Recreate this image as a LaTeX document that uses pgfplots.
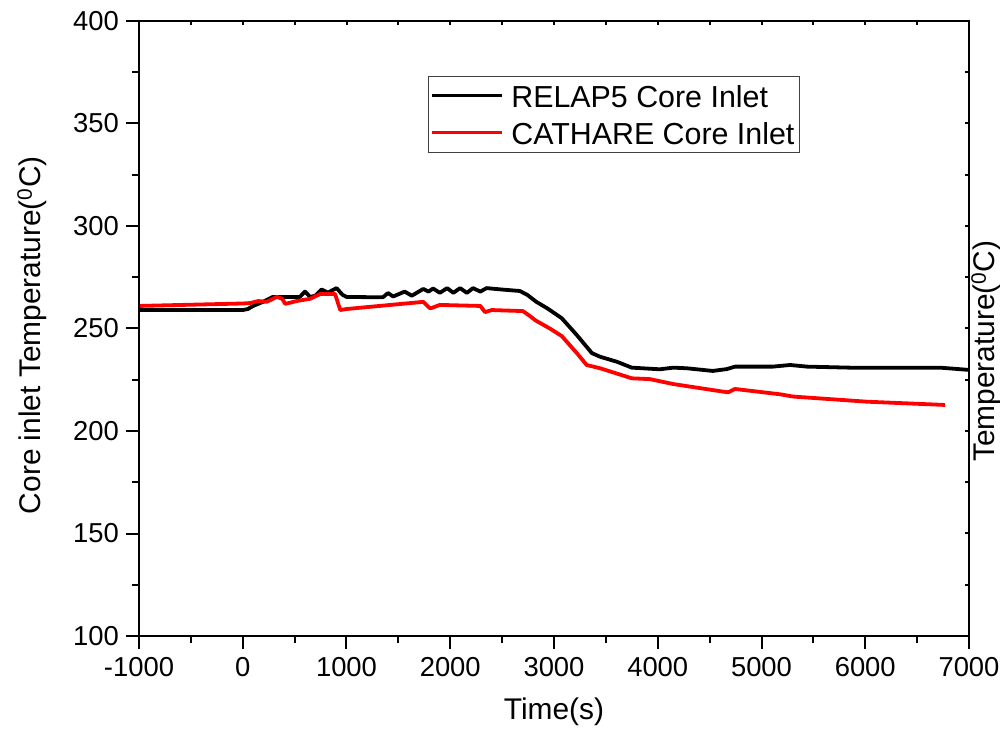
\documentclass[border=0pt]{standalone}
\usepackage{fontspec}
\setmainfont{Liberation Sans}
\usepackage{pgfplots}
\usepackage{pgfplotstable}
\pgfplotsset{compat=1.18}

% Core inlet temperature, RELAP5 calculation
\pgfplotstableread{
t T
-1000 259
0 259
50 259.5
100 261
195 263
290 265.4
550 265.4
600 268
650 265.4
700 266
760 269
820 267.5
905 269.7
960 266.5
1000 265.4
1350 265.2
1400 267.3
1450 265.6
1560 268
1630 266
1740 269.3
1790 268
1835 269.5
1900 267.4
1970 269.7
2030 267.4
2095 269.7
2160 267.4
2220 269.7
2290 268
2350 269.7
2500 269
2670 268.3
2740 266.5
2830 263
2930 260
2960 259
3075 255
3220 246.8
3365 238
3445 236.2
3605 233.8
3750 230.9
4020 230.1
4150 230.9
4280 230.6
4530 229.3
4665 230.2
4745 231.4
5110 231.4
5275 232.2
5440 231.4
5850 230.9
6720 230.9
7000 229.8
}\relaptable

% Core inlet temperature, CATHARE calculation
\pgfplotstableread{
t T
-1000 261
0 262.2
70 262.4
150 263.4
230 263
330 265.4
380 264.5
410 262
520 263.4
650 264.5
745 266.8
890 266.8
940 259
1000 259.5
1740 263
1800 260
1820 260
1900 261.5
2290 261
2335 258
2400 259
2700 258.5
2770 256
2820 254
2960 250
3075 246.3
3220 238
3315 232.2
3445 230.6
3750 225.7
3925 225.3
4150 222.9
4630 219.2
4680 218.9
4745 220.5
5180 217.9
5305 216.8
6015 214.3
6770 212.7
}\cathtable

\begin{document}
\begin{tikzpicture}
\useasboundingbox (-139bp,-97bp) rectangle (861bp,636bp);
\clip (-139bp,-97bp) rectangle (861bp,636bp);

\pgfplotsset{
  frame/.style={
    at={(0,0)}, anchor=south west, scale only axis,
    width=830bp, height=615bp,
    xmin=-1000, xmax=7000, ymin=100, ymax=400,
    xtick={-1000,0,...,7000}, ytick={100,150,...,400},
    minor x tick num=1, minor y tick num=1,
    axis line style={line width=2.2bp, black},
    tick style={line width=2bp, black},
  }
}

% left and bottom scales, outward ticks
\begin{axis}[frame,
    tick align=outside,
    xtick pos=left, ytick pos=left,
    major tick length=13bp, minor tick length=7bp,
    xticklabels={-1000,0,1000,2000,3000,4000,5000,6000,7000},
    yticklabels={100,150,200,250,300,350,400},
    xticklabel style={font=\fontsize{27.5}{27.5}\selectfont, inner sep=0pt, yshift=-8bp},
    yticklabel style={font=\fontsize{27.5}{27.5}\selectfont, inner sep=0pt, xshift=-7bp},
    xlabel={Time(s)},
    xlabel style={at={(axis description cs:0.5,-0.1008)}, anchor=north, inner sep=0pt,
      font=\fontsize{30}{30}\selectfont},
    ylabel={Core inlet Temperature(\textsuperscript{0}C)},
    ylabel style={at={(axis description cs:-0.147,0.489)}, anchor=north, inner sep=0pt,
      font=\fontsize{30}{30}\selectfont},
    legend cell align=left,
    legend style={at={(axis description cs:0.348,0.9106)}, anchor=north west,
      draw=black!75, line width=1bp, fill=white,
      font=\fontsize{30.5}{33}\selectfont,
      inner xsep=2bp, inner ysep=1bp, row sep=0bp, column sep=5bp,
      nodes={inner xsep=3bp, inner ysep=4.5bp, text height=26bp, text depth=2bp}},
    legend image code/.code={\draw[#1, line width=3bp] (0bp,0bp) -- (70bp,0bp);},
  ]
  \addplot[black, line width=3.8bp, line join=round] table[x=t, y=T] {\relaptable};
  \addlegendentry{RELAP5 Core Inlet}
  \addplot[red, line width=3.8bp, line join=round] table[x=t, y=T] {\cathtable};
  \addlegendentry{CATHARE Core Inlet}
\end{axis}

% right and top scales, inward ticks, no numbers
\begin{axis}[frame,
    tick align=inside,
    xtick pos=right, ytick pos=right,
    major tick length=4bp, minor tick length=4bp,
    xticklabels={}, yticklabels={},
    ylabel={Temperature(\textsuperscript{0}C)},
    ylabel style={at={(axis description cs:1.0024,0.463)}, anchor=north, rotate=0,
      inner sep=0pt, font=\fontsize{30}{30}\selectfont},
  ]
\end{axis}
\end{tikzpicture}
\end{document}
